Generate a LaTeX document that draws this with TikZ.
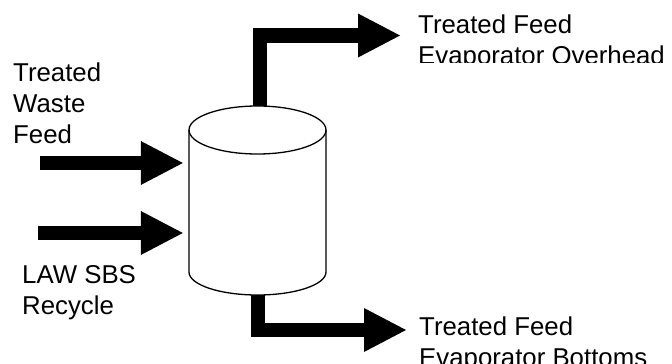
\documentclass[tikz,border=0pt]{standalone}
\usepackage{fontspec}
\setmainfont{Liberation Sans}
\usetikzlibrary{arrows.meta,calc}
\tikzset{
  pipe/.style={line width=14.5pt, line join=miter, -{Triangle[length=42pt,width=44pt,line width=0pt]}},
  lbl/.style={anchor=north west, inner sep=0pt, align=left, font=\fontsize{25.8}{30.8}\selectfont},
}
\begin{document}
\begin{tikzpicture}[x=1pt,y=-1pt]
	\useasboundingbox (0,0) rectangle (672,364);
	% evaporator vessel
	\node[minimum width=137pt, minimum height=189pt, inner sep=0pt] (evap) at (257.5,200.5) {};
	\draw[line width=1.3pt] (257.5,130) ellipse [x radius=68.5, y radius=24];
	\draw[line width=1.3pt] (189,130) -- (189,272) arc[start angle=180, end angle=0, x radius=68.5, y radius=23] -- (326,130);
	% feeds in
	\coordinate (wastein) at (40,163);
	\coordinate (recyin) at (38,233);
	\draw[pipe, shorten >=6pt] (wastein) -- (wastein -| evap.west);
	\draw[pipe, shorten >=6pt] (recyin) -- (recyin -| evap.west);
	% products out
	\coordinate (ovhd) at (400,35.5);
	\coordinate (btms) at (406,330);
	\draw[pipe] ([xshift=2.5pt]evap.north) |- (ovhd);
	\draw[pipe] ([xshift=0.5pt]evap.south) |- (btms);
	% labels
	\node[lbl] (wastelbl) at (13,63) {Treated\\Waste\\Feed};
	\node[lbl] (recylbl) at (22,265) {LAW SBS\\Recycle};
	\begin{scope}
		\clip (400,0) rectangle (672,62);
		\node[lbl] (ovhdlbl) at (418,15) {Treated Feed\\Evaporator Overhead};
	\end{scope}
	\node[lbl] (btmslbl) at (419,317) {Treated Feed\\Evaporator Bottoms};
\end{tikzpicture}
\end{document}
